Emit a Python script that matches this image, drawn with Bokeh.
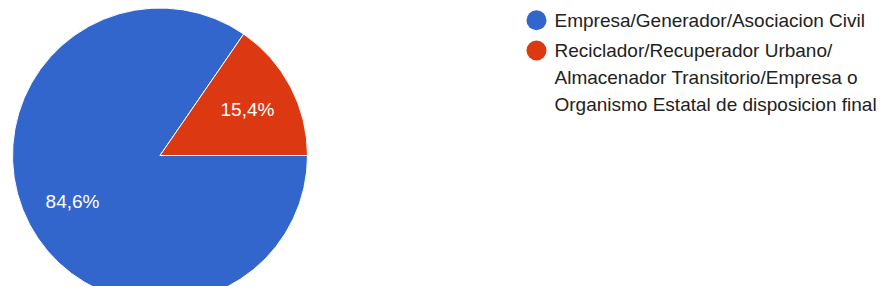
import math
from bokeh.plotting import figure
from bokeh.models import Range1d, ColumnDataSource
from bokeh.core.properties import value
from bokeh.embed import file_html
from bokeh.resources import INLINE

categories = ["Empresa/Generador/Asociacion Civil",
              "Reciclador/Recuperador Urbano/ Almacenador Transitorio/Empresa o Organismo Estatal de disposicion final"]
legend_lines = [["Empresa/Generador/Asociacion Civil"],
                ["Reciclador/Recuperador Urbano/",
                 "Almacenador Transitorio/Empresa o",
                 "Organismo Estatal de disposicion final"]]
values = [84.6, 15.4]
pct_labels = ["84,6%", "15,4%"]
colors = ["#3366cc", "#dc3912"]

W, H = 877, 286
FONT = "Liberation Sans"

p = figure(width=W, height=H, output_backend="svg", toolbar_location=None,
           x_range=Range1d(0, W), y_range=Range1d(-H, 0),
           min_border=0, outline_line_color=None)
p.axis.visible = False
p.grid.visible = False
p.background_fill_color = "white"
p.border_fill_color = "white"

cx, cy, R = 159.5, -155.0, 147.5
total = sum(values)
starts, ends, lx, ly = [], [], [], []
cum = 0.0
for v in values:
    a0 = -2 * math.pi * (cum + v) / total
    a1 = -2 * math.pi * cum / total
    starts.append(a0)
    ends.append(a1)
    mid = (a0 + a1) / 2
    lx.append(cx + 0.67 * R * math.cos(mid))
    ly.append(cy + 0.67 * R * math.sin(mid))
    cum += v

src = ColumnDataSource(dict(start=starts, end=ends, color=colors, lx=lx, ly=ly, lab=pct_labels))
p.wedge(x=cx, y=cy, radius=R, start_angle="start", end_angle="end",
        fill_color="color", line_color="white", line_width=1, source=src)
p.text(x="lx", y="ly", text="lab", source=src, text_color="white",
       text_font=value(FONT), text_font_size="19px",
       text_align="center", text_baseline="middle")

# legend
mx, tx = 536, 554
row_y = [-19.7, -50.0]
line_h = 27.2
p.scatter(x=[mx, mx], y=row_y, size=20, marker="circle", fill_color=colors, line_color=None)
xs, ys, ts = [], [], []
for i, lines in enumerate(legend_lines):
    for j, t in enumerate(lines):
        xs.append(tx)
        ys.append(row_y[i] - j * line_h)
        ts.append(t)
p.text(x=xs, y=ys, text=ts, text_color="#222222", text_font=value(FONT),
       text_font_size="19px", text_align="left", text_baseline="middle")

open("out.html", "w").write(file_html(p, INLINE))
